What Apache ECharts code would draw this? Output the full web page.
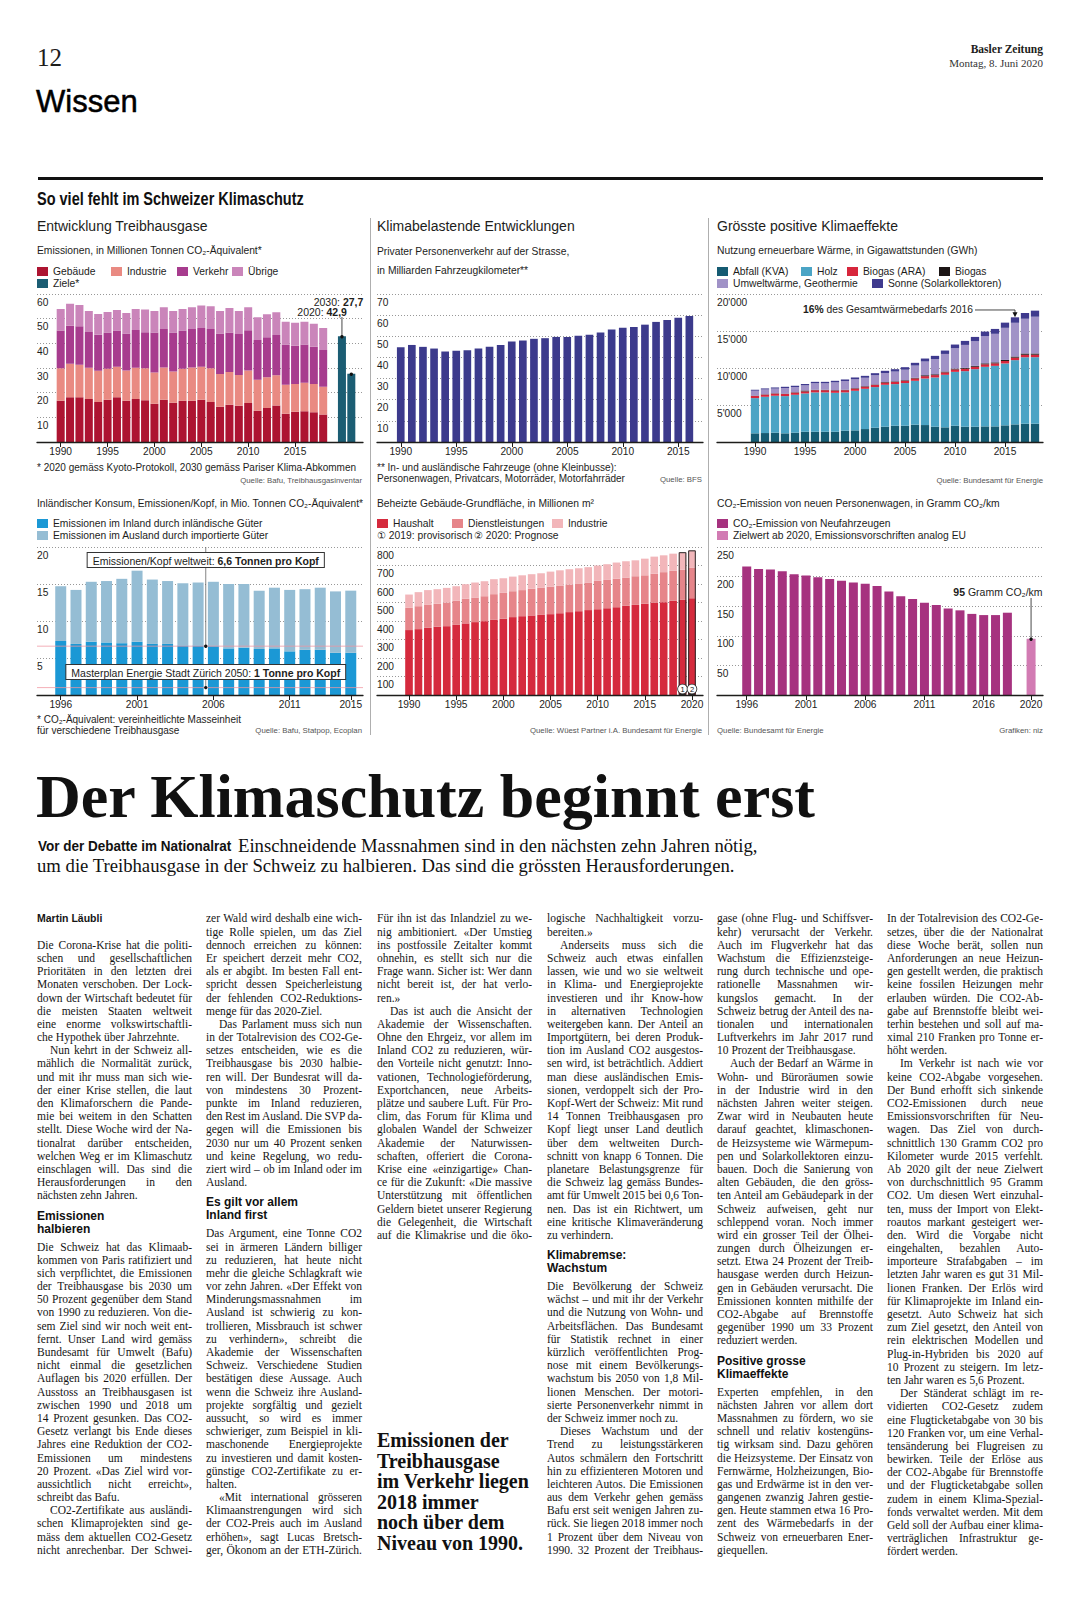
<!DOCTYPE html>
<html><head><meta charset="utf-8">
<script src="https://cdn.jsdelivr.net/npm/echarts@6/dist/echarts.min.js"></script>
<style>
html,body{margin:0;padding:0;background:#fff;}
body{width:1079px;height:1600px;position:relative;overflow:hidden;color:#1d1d1b;font-family:'Liberation Serif',serif;}
#chart{position:absolute;left:0;top:0;width:1079px;height:760px;z-index:1;}
.abs{position:absolute;white-space:nowrap;z-index:2;}
.col{position:absolute;}
.ln{height:13.2px;line-height:13.2px;font:11.5px 'Liberation Serif',serif;white-space:nowrap;color:#151515;}
.au{font:bold 10.5px 'Liberation Sans',Arial,sans-serif;}
.in{padding-left:13px;}
.sh{font:bold 12px/13px 'Liberation Sans',Arial,sans-serif;margin:7px 0 5px 0;color:#111;}
</style></head><body>
<div class="abs" style="left:37px;top:44px;font:25px/28px 'Liberation Serif',serif;">12</div>
<div class="abs" style="right:36px;top:43px;font:bold 11.5px/13px 'Liberation Serif',serif;">Basler Zeitung</div>
<div class="abs" style="right:36px;top:57px;font:11px/13px 'Liberation Serif',serif;color:#333;">Montag, 8. Juni 2020</div>
<div class="abs" style="left:36px;top:84px;font:31px/36px 'Liberation Sans',Arial,sans-serif;color:#000;-webkit-text-stroke:0.5px #000;">Wissen</div>
<div class="abs" style="left:38px;top:177px;width:1005px;height:3px;background:#111;"></div>
<div id="chart"></div>
<div class="abs" style="left:36px;top:765px;font:bold 62px/62px 'Liberation Serif',serif;color:#111;">Der Klimaschutz beginnt erst</div>
<div class="abs" style="left:38px;top:838px;font:bold 15px/16px 'Liberation Sans',Arial,sans-serif;color:#111;transform:scaleX(0.9);transform-origin:0 0;">Vor der Debatte im Nationalrat</div>
<div class="abs" style="left:238px;top:836px;font:18.7px/20px 'Liberation Serif',serif;color:#111;">Einschneidende Massnahmen sind in den nächsten zehn Jahren nötig,</div>
<div class="abs" style="left:37px;top:856px;font:18.7px/20px 'Liberation Serif',serif;color:#111;">um die Treibhausgase in der Schweiz zu halbieren. Das sind die grössten Herausforderungen.</div>
<div class="abs" style="left:377px;top:1430px;font:bold 20px/20.6px 'Liberation Serif',serif;color:#111;">Emissionen der<br>Treibhausgase<br>im Verkehr liegen<br>2018 immer<br>noch über dem<br>Niveau von 1990.</div>
<script>
// ---------------- DATA ----------------
const c1Years = ['1990','1991','1992','1993','1994','1995','1996','1997','1998','1999','2000','2001','2002','2003','2004','2005','2006','2007','2008','2009','2010','2011','2012','2013','2014','2015','2016','2017','2018','2019','2020','2030'];
const c1Gebaeude = [16.7,18.1,18.1,17.4,16.2,17.1,18.1,16.7,17.4,16.9,15.5,17.1,15.9,16.7,16.7,17.1,16.2,14.3,15.1,14.7,15.8,12.7,13.8,14.8,11.5,12.3,12.5,12.1,11.1];
const c1Industrie = [13.2,13.6,13.2,12.7,12.7,12.6,12.4,12.3,12.7,13.0,12.7,13.1,12.7,13.0,13.5,13.4,13.7,13.3,13.3,12.5,13.2,12.5,12.5,12.3,11.7,11.2,11.5,11.4,11.3];
const c1Verkehr = [15.3,15.4,15.6,14.5,14.6,14.7,14.7,15.0,15.3,14.6,16.2,15.6,15.8,15.5,15.6,15.7,15.9,16.4,16.0,16.6,16.3,16.2,16.2,16.3,16.3,15.5,15.5,15.1,14.9];
const c1Uebrige = [8.7,8.9,8.6,8.5,8.4,8.3,8.3,8.3,8.5,9.2,8.7,8.8,8.7,8.7,8.8,9.1,9.2,9.1,9.9,9.3,9.3,9.2,9.3,9.2,9.3,9.3,9.2,9.3,8.9];
const c1Ziele = [['2020',42.9],['2030',27.7]];

const c2Years = ['1990','1991','1992','1993','1994','1995','1996','1997','1998','1999','2000','2001','2002','2003','2004','2005','2006','2007','2008','2009','2010','2011','2012','2013','2014','2015','2016'];
const c2Fahrzeugkm = [44.8,45.9,45.0,44.2,42.8,43.1,43.4,44.2,45.0,45.9,47.5,48.0,48.8,49.1,49.7,49.7,50.2,50.7,51.8,53.2,54.0,54.4,55.5,56.8,57.7,58.8,59.6];

const c3Years = ['1990','1991','1992','1993','1994','1995','1996','1997','1998','1999','2000','2001','2002','2003','2004','2005','2006','2007','2008','2009','2010','2011','2012','2013','2014','2015','2016','2017','2018'];
const c3Abfall = [1170,1210,1260,1170,1260,1390,1390,1390,1390,1530,1570,1750,1930,2070,2200,2200,2340,2290,2070,1980,2200,2070,2070,2110,2110,2250,2380,2470,2470];
const c3Holz = [4760,4900,4990,5030,5120,5170,5310,5310,5260,5170,5350,5440,5490,5660,5620,5760,5930,6290,6650,7100,7280,7500,7770,8050,8180,8360,8680,8990,8990];
const c3BiogasARA = [300,300,300,300,300,280,300,300,300,300,300,300,300,310,310,310,320,320,320,330,330,330,330,340,340,340,340,340,340];
const c3Biogas = [40,40,40,40,50,120,60,60,60,60,60,60,60,70,70,80,90,120,110,110,110,120,120,130,130,140,150,150,160];
const c3Umwelt = [660,650,630,760,700,700,880,870,1050,1170,1200,1130,1240,1210,1320,1420,1650,1860,2060,2380,2750,3100,3330,3670,3860,4340,4560,4710,4970];
const c3Sonne = [130,140,150,160,170,180,190,200,210,220,240,260,280,300,320,340,370,400,430,460,500,540,580,620,660,700,740,780,820];

const c4Years = ['1996','1997','1998','1999','2000','2001','2002','2003','2004','2005','2006','2007','2008','2009','2010','2011','2012','2013','2014','2015'];
const c4Inland = [7.3,6.9,7.2,7.1,7.0,7.2,6.9,6.9,6.7,6.7,6.6,6.3,6.4,6.2,6.3,5.9,6.1,6.1,5.7,5.7];
const c4Ausland = [7.4,7.3,8.1,8.3,8.7,9.6,8.7,8.5,8.4,8.5,8.7,8.7,8.6,7.9,8.2,8.3,8.2,8.4,8.3,8.4];
const c4Welt = 6.6, c4Zuerich = 1;

const c5Years = ['1990','1991','1992','1993','1994','1995','1996','1997','1998','1999','2000','2001','2002','2003','2004','2005','2006','2007','2008','2009','2010','2011','2012','2013','2014','2015','2016','2017','2018','2019','2020'];
const c5Haushalt = [351,356,363,369,372,379,387,394,399,406,412,421,426,430,433,437,442,448,453,459,464,469,475,482,487,493,498,502,509,514,523];
const c5Dienst = [120,124,124,124,128,130,133,133,135,139,140,140,141,144,146,149,150,149,150,149,153,153,154,153,155,154,158,162,162,164,166];
const c5Industrie = [72,76,80,79,79,79,79,81,81,81,79,79,80,79,79,81,82,83,82,83,83,85,87,88,86,90,92,91,93,94,93];
const c5Marked = ['2019','2020'];

const c6Years = ['1996','1997','1998','1999','2000','2001','2002','2003','2004','2005','2006','2007','2008','2009','2010','2011','2012','2013','2014','2015','2016','2017','2018','2019','2020'];
const c6Neu = [217,213,212,209,204,202,199,196,193,190,188,184,175,167,162,156,152,146,143,137,135,135,139];
const c6Ziel = [['2020',95]];

// ---------------- STYLE ----------------
const FF = "'Liberation Sans', Arial, sans-serif";
const INK = '#1d1d1b';
const SUB = 10.3;
const GRIDLINE = {type:[1,2], color:'#7d7d7d', width:0.8};
const apos = v => String(v).replace(/\B(?=(\d{3})+(?!\d))/g, "'");

const P = [
 {L:37, R:363, T:294, B:442, dl:56, dr:356, max:60, step:10, cats:c1Years, bw:'85%', show:(i,v)=>+v<=2015 && +v%5===0},
 {L:377, R:703, T:294, B:442, dl:395.2, dr:694.9, max:70, step:10, cats:c2Years, bw:'69%', show:(i,v)=>+v%5===0},
 {L:717, R:1043, T:294, B:442, dl:750, dr:1040, max:20000, step:5000, cats:c3Years, bw:'83%', show:(i,v)=>+v%5===0, fmt:apos},
 {L:37, R:363, T:547, B:695, dl:53.1, dr:358.4, max:20, step:5, cats:c4Years, bw:'72%', show:(i,v)=>(+v-1996)%5===0 || v==='2015'},
 {L:377, R:703, T:547, B:695, dl:404.3, dr:696.7, max:800, step:100, cats:c5Years, bw:'81%', show:(i,v)=>+v%5===0},
 {L:717, R:1043, T:547, B:695, dl:740.8, dr:1037, max:250, step:50, cats:c6Years, bw:'76%', show:(i,v)=>(+v-1996)%5===0 || v==='2020'}
];

const grids=[], xAxes=[], yAxes=[];
P.forEach((p,i)=>{
  grids.push({left:p.L, top:p.T, width:p.R-p.L, height:p.B-p.T, outerBoundsMode:'none'});
  grids.push({left:p.dl, top:p.T, width:p.dr-p.dl, height:p.B-p.T, outerBoundsMode:'none'});
  xAxes.push({gridIndex:2*i, type:'value', min:0, max:1, z:6, axisLine:{show:true, onZero:false, lineStyle:{color:INK, width:1.3}}, axisTick:{show:false}, axisLabel:{show:false}, splitLine:{show:false}});
  xAxes.push({gridIndex:2*i+1, type:'category', data:p.cats, axisLine:{show:false},
    axisTick:{show:true, alignWithLabel:true, interval:p.show, length:5, lineStyle:{color:INK, width:1}},
    axisLabel:{interval:p.show, margin:4, fontSize:10.2, color:INK, fontFamily:FF, hideOverlap:false}, splitLine:{show:false}});
  yAxes.push({gridIndex:2*i, type:'value', min:0, max:p.max, interval:p.step, axisLine:{show:false}, axisTick:{show:false},
    splitLine:{show:true, lineStyle:GRIDLINE},
    axisLabel:{inside:true, margin:0, verticalAlign:'top', padding:[3,0,0,0], fontSize:10.2, color:INK, fontFamily:FF, showMinLabel:false, formatter:p.fmt || (v=>String(v))}});
  yAxes.push({gridIndex:2*i+1, type:'value', min:0, max:p.max, show:false});
});

function bar(k, name, data, color, extra){
  return Object.assign({type:'bar', name, data, xAxisIndex:2*k+1, yAxisIndex:2*k+1, stack:'s'+k, barWidth:P[k].bw,
    itemStyle:{color}, emphasis:{disabled:true}, animation:false}, extra||{});
}
const c5Totals = c5Marked.map(y=>{const i=c5Years.indexOf(y); return [y, c5Haushalt[i]+c5Dienst[i]+c5Industrie[i]];});

const series = [
  bar(0,'Gebäude',c1Gebaeude,'#ad1431'),
  bar(0,'Industrie',c1Industrie,'#e98a82'),
  bar(0,'Verkehr',c1Verkehr,'#a73c8e'),
  bar(0,'Übrige',c1Uebrige,'#ca85ba'),
  bar(0,'Ziele*',c1Ziele,'#1b5d73',{stack:null, barGap:'-100%'}),
  bar(1,'Fahrzeugkilometer',c2Fahrzeugkm,'#3c3a8c'),
  bar(2,'Abfall (KVA)',c3Abfall,'#155b72'),
  bar(2,'Holz',c3Holz,'#4ba4c5'),
  bar(2,'Biogas (ARA)',c3BiogasARA,'#d7263c'),
  bar(2,'Biogas',c3Biogas,'#1c1515'),
  bar(2,'Umweltwärme, Geothermie',c3Umwelt,'#a092c7'),
  bar(2,'Sonne (Solarkollektoren)',c3Sonne,'#3f3a8e'),
  bar(3,'Emissionen im Inland durch inländische Güter',c4Inland,'#1b98d5'),
  bar(3,'Emissionen im Ausland durch importierte Güter',c4Ausland,'#95bdd4'),
  bar(4,'Haushalt',c5Haushalt,'#d52a3d'),
  bar(4,'Dienstleistungen',c5Dienst,'#e6858a'),
  bar(4,'Industrie\u200b',c5Industrie,'#f2b6ba'),
  bar(4,'Umriss',c5Totals,'rgba(0,0,0,0)',{stack:null, barGap:'-100%', z:3, silent:true,
     itemStyle:{color:'rgba(0,0,0,0)', borderColor:'#2a2a2a', borderWidth:1},
     label:{show:true, position:'insideBottom', distance:1.5, formatter:p=>String(p.dataIndex+1), fontSize:7.5, fontFamily:FF, color:'#111',
       backgroundColor:'#fff', borderColor:'#222', borderWidth:0.8, borderRadius:5, width:9, height:9, lineHeight:9, align:'center', padding:0}}),
  bar(5,'CO₂-Emission von Neufahrzeugen',c6Neu,'#a6327f'),
  bar(5,'Zielwert ab 2020, Emissionsvorschriften analog EU',c6Ziel,'#d27bb3',{stack:null, barGap:'-100%'})
];

const LG = (name,left,top)=>({data:[name], left, top, padding:0, itemWidth:11, itemHeight:9, itemGap:0, icon:'rect', orient:'horizontal',
  textStyle:{fontSize:SUB, color:INK, fontFamily:FF}});
const legends = [
  LG('Gebäude',37,266.5), LG('Industrie',111,266.5), LG('Verkehr',177,266.5), LG('Übrige',232,266.5), LG('Ziele*',37,278.5),
  LG('Abfall (KVA)',717,266.5), LG('Holz',801,266.5), LG('Biogas (ARA)',847,266.5), LG('Biogas',939,266.5),
  LG('Umweltwärme, Geothermie',717,278.5), LG('Sonne (Solarkollektoren)',872,278.5),
  LG('Emissionen im Inland durch inländische Güter',37,518.5), LG('Emissionen im Ausland durch importierte Güter',37,530.5),
  LG('Haushalt',377,518.5), LG('Dienstleistungen',452,518.5), LG('Industrie\u200b',552,518.5),
  LG('CO₂-Emission von Neufahrzeugen',717,518.5), LG('Zielwert ab 2020, Emissionsvorschriften analog EU',717,530.5)
];

const chart = echarts.init(document.getElementById('chart'), null, {renderer:'svg'});
chart.setOption({animation:false, textStyle:{fontFamily:FF}, grid:grids, xAxis:xAxes, yAxis:yAxes, legend:legends, series});

// ---------------- TEXT & ANNOTATIONS ----------------
function T(x,y,text,size,o,extra){return Object.assign({type:'text', x, y, z:100, silent:true, style:Object.assign({text, fontSize:size, fontFamily:FF, fill:INK, align:'left', verticalAlign:'middle'},o||{})},extra||{});}
const SRC = {fill:'#555'};
const SRCR = {fill:'#555', align:'right'};
const B = s=>({rich:{b:{fontWeight:'bold', fontSize:s, fontFamily:FF, fill:INK}}});
function L(x1,y1,x2,y2,c,w){return {type:'line', z:100, silent:true, shape:{x1,y1,x2,y2}, style:{stroke:c||'#555', lineWidth:w||0.8}};}
function D(x,y){return {type:'circle', z:101, silent:true, shape:{cx:x,cy:y,r:1.7}, style:{fill:'#111'}};}
const px=(g,c,v)=>chart.convertToPixel({gridIndex:g},[c,v]);

const els = [
  T(37,198.5,'So viel fehlt im Schweizer Klimaschutz',17.7,{fontWeight:'bold', fill:'#111'},{scaleX:0.82}),
  T(37,226,'Entwicklung Treibhausgase',14), T(377,226,'Klimabelastende Entwicklungen',14), T(717,226,'Grösste positive Klimaeffekte',14),
  T(37,250,'Emissionen, in Millionen Tonnen CO₂-Äquivalent*',SUB),
  T(377,251,'Privater Personenverkehr auf der Strasse,',SUB), T(377,270,'in Milliarden Fahrzeugkilometer**',SUB),
  T(717,250,'Nutzung erneuerbare Wärme, in Gigawattstunden (GWh)',SUB),
  T(37,467,'* 2020 gemäss Kyoto-Protokoll, 2030 gemäss Pariser Klima-Abkommen',10),
  T(377,467,'** In- und ausländische Fahrzeuge (ohne Kleinbusse):',10),
  T(377,478.5,'Personenwagen, Privatcars, Motorräder, Motorfahrräder',10),
  T(362,480,'Quelle: Bafu, Treibhausgasinventar',7.8,SRCR),
  T(702,479,'Quelle: BFS',7.8,SRCR),
  T(1043,480,'Quelle: Bundesamt für Energie',7.8,SRCR),
  T(37,503.5,'Inländischer Konsum, Emissionen/Kopf, in Mio. Tonnen CO₂-Äquivalent*',10.2),
  T(377,503.5,'Beheizte Gebäude-Grundfläche, in Millionen m²',SUB),
  T(717,503.5,'CO₂-Emission von neuen Personenwagen, in Gramm CO₂/km',SUB),
  T(377,535,'① 2019: provisorisch',SUB), T(474,535,'② 2020: Prognose',SUB),
  T(37,719.5,'* CO₂-Äquivalent: vereinheitlichte Masseinheit',10),
  T(37,730.5,'für verschiedene Treibhausgase',10),
  T(362,730,'Quelle: Bafu, Statpop, Ecoplan',7.8,SRCR),
  T(702,730,'Quelle: Wüest Partner i.A. Bundesamt für Energie',7.8,SRCR),
  T(717,730,'Quelle: Bundesamt für Energie',7.8,SRC),
  T(1043,730,'Grafiken: niz',7.8,SRCR),
  L(370.5,218,370.5,735,'#9a9a9a',0.8), L(708.5,218,708.5,735,'#9a9a9a',0.8)
];

// chart 1 targets
{
  const a20=px(1,'2020',c1Ziele[0][1]), a30=px(1,'2030',c1Ziele[1][1]);
  const y20=px(1,'2020',52.7)[1], y30=px(1,'2030',56.7)[1];
  els.push(L(a20[0],y20+5,a20[0],a20[1],'#333',0.9), D(a20[0],a20[1]+0.5), D(a30[0],a30[1]+0.5));
  els.push(T(a20[0]+5,y20,'2020: {b|42,9}',10.5,Object.assign({align:'right'},B(10.5))));
  els.push(T(a30[0]+12,y30,'2030: {b|27,7}',10.5,Object.assign({align:'right'},B(10.5))));
}
// chart 3 annotation
{
  const i=c3Years.indexOf('2016');
  const tot=c3Abfall[i]+c3Holz[i]+c3BiogasARA[i]+c3Biogas[i]+c3Umwelt[i]+c3Sonne[i];
  const a=px(5,'2016',tot), yl=px(5,'2016',17840)[1];
  els.push({type:'polyline', z:100, silent:true, shape:{points:[[a[0]-40,yl],[a[0],yl],[a[0],a[1]-3]]}, style:{stroke:'#333', lineWidth:0.9, fill:null}});
  els.push({type:'polygon', z:101, silent:true, shape:{points:[[a[0]-2.5,a[1]-5],[a[0]+2.5,a[1]-5],[a[0],a[1]]]}, style:{fill:'#111'}});
  els.push(T(a[0]-42,yl,'{b|16%} des Gesamtwärmebedarfs 2016',10.3,Object.assign({align:'right'},B(10.3))));
}
// chart 4 annotations
{
  const xm=(px(7,'2005',0)[0]+px(7,'2006',0)[0])/2;
  const y66=px(7,'2005',c4Welt)[1], y1=px(7,'2005',c4Zuerich)[1], yTop=px(7,'2005',20)[1];
  const yB1=px(7,'2005',18.24)[1], yB2=px(7,'2005',3.1)[1];
  els.push(L(P[3].L,y66,P[3].R,y66,'rgba(240,150,160,0.75)',1), L(P[3].L,y1,P[3].R,y1,'rgba(240,150,160,0.75)',1));
  els.push(L(xm,yTop,xm,y66,'#666',0.8), L(xm,yB2,xm,y1,'#666',0.8), D(xm,y66), D(xm,y1));
  const box={align:'center', backgroundColor:'#fff', borderColor:'#333', borderWidth:1, padding:[2,5,1,5]};
  els.push(T(xm,yB1,'Emissionen/Kopf weltweit: {b|6,6 Tonnen pro Kopf}',10.5,Object.assign({},box,B(10.5))));
  els.push(T(xm,yB2,'Masterplan Energie Stadt Zürich 2050: {b|1 Tonne pro Kopf}',10.5,Object.assign({},box,B(10.5))));
}
// chart 6 annotation
{
  const a=px(11,'2020',c6Ziel[0][1]), yl=px(11,'2020',174)[1];
  els.push(L(a[0],yl+6,a[0],a[1],'#333',0.9), D(a[0],a[1]+0.5));
  els.push(T(a[0]+11.5,yl,'{b|95} Gramm CO₂/km',10.5,Object.assign({align:'right'},B(10.5))));
}
chart.setOption({graphic:{elements:els}});

// ---------------- ARTICLE ----------------
const COL1 = ['#Martin Läubli','~',
'Die Corona-Krise hat die politi-','schen und gesellschaftlichen','Prioritäten in den letzten drei','Monaten verschoben. Der Lock-','down der Wirtschaft bedeutet für','die meisten Staaten weltweit','eine enorme volkswirtschaftli-','che Hypothek über Jahrzehnte.¶',
'>Nun kehrt in der Schweiz all-','mählich die Normalität zurück,','und mit ihr muss man sich wie-','der einer Krise stellen, die laut','den Klimaforschern die Pande-','mie bei weitem in den Schatten','stellt. Diese Woche wird der Na-','tionalrat darüber entscheiden,','welchen Weg er im Klimaschutz','einschlagen will. Das sind die','Herausforderungen in den','nächsten zehn Jahren.¶',
'=Emissionen','=halbieren',
'Die Schweiz hat das Klimaab-','kommen von Paris ratifiziert und','sich verpflichtet, die Emissionen','der Treibhausgase bis 2030 um','50 Prozent gegenüber dem Stand','von 1990 zu reduzieren. Von die-','sem Ziel sind wir noch weit ent-','fernt. Unser Land wird gemäss','Bundesamt für Umwelt (Bafu)','nicht einmal die gesetzlichen','Auflagen bis 2020 erfüllen. Der','Ausstoss an Treibhausgasen ist','zwischen 1990 und 2018 um','14 Prozent gesunken. Das CO2-','Gesetz verlangt bis Ende dieses','Jahres eine Reduktion der CO2-','Emissionen um mindestens','20 Prozent. «Das Ziel wird vor-','aussichtlich nicht erreicht»,','schreibt das Bafu.¶',
'>CO2-Zertifikate aus ausländi-','schen Klimaprojekten sind ge-','mäss dem aktuellen CO2-Gesetz','nicht anrechenbar. Der Schwei-'];
const COL2 = ['zer Wald wird deshalb eine wich-','tige Rolle spielen, um das Ziel','dennoch erreichen zu können:','Er speichert derzeit mehr CO2,','als er abgibt. Im besten Fall ent-','spricht dessen Speicherleistung','der fehlenden CO2-Reduktions-','menge für das 2020-Ziel.¶',
'>Das Parlament muss sich nun','in der Totalrevision des CO2-Ge-','setzes entscheiden, wie es die','Treibhausgase bis 2030 halbie-','ren will. Der Bundesrat will da-','von mindestens 30 Prozent-','punkte im Inland reduzieren,','den Rest im Ausland. Die SVP da-','gegen will die Emissionen bis','2030 nur um 40 Prozent senken','und keine Regelung, wo redu-','ziert wird – ob im Inland oder im','Ausland.¶',
'=Es gilt vor allem','=Inland first',
'Das Argument, eine Tonne CO2','sei in ärmeren Ländern billiger','zu reduzieren, hat heute nicht','mehr die gleiche Schlagkraft wie','vor zehn Jahren. «Der Effekt von','Minderungsmassnahmen im','Ausland ist schwierig zu kon-','trollieren, Missbrauch ist schwer','zu verhindern», schreibt die','Akademie der Wissenschaften','Schweiz. Verschiedene Studien','bestätigen diese Aussage. Auch','wenn die Schweiz ihre Ausland-','projekte sorgfältig und gezielt','aussucht, so wird es immer','schwieriger, zum Beispiel in kli-','maschonende Energieprojekte','zu investieren und damit kosten-','günstige CO2-Zertifikate zu er-','halten.¶',
'>«Mit international grösseren','Klimaanstrengungen wird sich','der CO2-Preis auch im Ausland','erhöhen», sagt Lucas Bretsch-','ger, Ökonom an der ETH-Zürich.'];
const COL3 = ['Für ihn ist das Inlandziel zu we-','nig ambitioniert. «Der Umstieg','ins postfossile Zeitalter kommt','ohnehin, es stellt sich nur die','Frage wann. Sicher ist: Wer dann','nicht bereit ist, der hat verlo-','ren.»¶',
'>Das ist auch die Ansicht der','Akademie der Wissenschaften.','Ohne den Ehrgeiz, vor allem im','Inland CO2 zu reduzieren, wür-','den Vorteile nicht genutzt: Inno-','vationen, Technologieförderung,','Exportchancen, neue Arbeits-','plätze und saubere Luft. Für Pro-','clim, das Forum für Klima und','globalen Wandel der Schweizer','Akademie der Naturwissen-','schaften, offeriert die Corona-','Krise eine «einzigartige» Chan-','ce für die Zukunft: «Die massive','Unterstützung mit öffentlichen','Geldern bietet unserer Regierung','die Gelegenheit, die Wirtschaft','auf die Klimakrise und die öko-'];
const COL4 = ['logische Nachhaltigkeit vorzu-','bereiten.»¶',
'>Anderseits muss sich die','Schweiz auch etwas einfallen','lassen, wie und wo sie weltweit','in Klima- und Energieprojekte','investieren und ihr Know-how','in alternativen Technologien','weitergeben kann. Der Anteil an','Importgütern, bei deren Produk-','tion im Ausland CO2 ausgestos-','sen wird, ist beträchtlich. Addiert','man diese ausländischen Emis-','sionen, verdoppelt sich der Pro-','Kopf-Wert der Schweiz: Mit rund','14 Tonnen Treibhausgasen pro','Kopf liegt unser Land deutlich','über dem weltweiten Durch-','schnitt von knapp 6 Tonnen. Die','planetare Belastungsgrenze für','die Schweiz lag gemäss Bundes-','amt für Umwelt 2015 bei 0,6 Ton-','nen. Das ist ein Richtwert, um','eine kritische Klimaveränderung','zu verhindern.¶',
'=Klimabremse:','=Wachstum',
'Die Bevölkerung der Schweiz','wächst – und mit ihr der Verkehr','und die Nutzung von Wohn- und','Arbeitsflächen. Das Bundesamt','für Statistik rechnet in einer','kürzlich veröffentlichten Prog-','nose mit einem Bevölkerungs-','wachstum bis 2050 von 1,8 Mil-','lionen Menschen. Der motori-','sierte Personenverkehr nimmt in','der Schweiz immer noch zu.¶',
'>Dieses Wachstum und der','Trend zu leistungsstärkeren','Autos schmälern den Fortschritt','hin zu effizienteren Motoren und','leichteren Autos. Die Emissionen','aus dem Verkehr gehen gemäss','Bafu erst seit wenigen Jahren zu-','rück. Sie liegen 2018 immer noch','1 Prozent über dem Niveau von','1990. 32 Prozent der Treibhaus-'];
const COL5 = ['gase (ohne Flug- und Schiffsver-','kehr) verursacht der Verkehr.','Auch im Flugverkehr hat das','Wachstum die Effizienzsteige-','rung durch technische und ope-','rationelle Massnahmen wir-','kungslos gemacht. In der','Schweiz betrug der Anteil des na-','tionalen und internationalen','Luftverkehrs im Jahr 2017 rund','10 Prozent der Treibhausgase.¶',
'>Auch der Bedarf an Wärme in','Wohn- und Büroräumen sowie','in der Industrie wird in den','nächsten Jahren weiter steigen.','Zwar wird in Neubauten heute','darauf geachtet, klimaschonen-','de Heizsysteme wie Wärmepum-','pen und Solarkollektoren einzu-','bauen. Doch die Sanierung von','alten Gebäuden, die den gröss-','ten Anteil am Gebäudepark in der','Schweiz aufweisen, geht nur','schleppend voran. Noch immer','wird ein grosser Teil der Ölhei-','zungen durch Ölheizungen er-','setzt. Etwa 24 Prozent der Treib-','hausgase werden durch Heizun-','gen in Gebäuden verursacht. Die','Emissionen konnten mithilfe der','CO2-Abgabe auf Brennstoffe','gegenüber 1990 um 33 Prozent','reduziert werden.¶',
'=Positive grosse','=Klimaeffekte',
'Experten empfehlen, in den','nächsten Jahren vor allem dort','Massnahmen zu fördern, wo sie','schnell und relativ kostengüns-','tig wirksam sind. Dazu gehören','die Heizsysteme. Der Einsatz von','Fernwärme, Holzheizungen, Bio-','gas und Erdwärme ist in den ver-','gangenen zwanzig Jahren gestie-','gen. Heute stammen etwa 16 Pro-','zent des Wärmebedarfs in der','Schweiz von erneuerbaren Ener-','giequellen.¶'];
const COL6 = ['In der Totalrevision des CO2-Ge-','setzes, über die der Nationalrat','diese Woche berät, sollen nun','Anforderungen an neue Heizun-','gen gestellt werden, die praktisch','keine fossilen Heizungen mehr','erlauben würden. Die CO2-Ab-','gabe auf Brennstoffe bleibt wei-','terhin bestehen und soll auf ma-','ximal 210 Franken pro Tonne er-','höht werden.¶',
'>Im Verkehr ist nach wie vor','keine CO2-Abgabe vorgesehen.','Der Bund erhofft sich sinkende','CO2-Emissionen durch neue','Emissionsvorschriften für Neu-','wagen. Das Ziel von durch-','schnittlich 130 Gramm CO2 pro','Kilometer wurde 2015 verfehlt.','Ab 2020 gilt der neue Zielwert','von durchschnittlich 95 Gramm','CO2. Um diesen Wert einzuhal-','ten, muss der Import von Elekt-','roautos markant gesteigert wer-','den. Wird die Vorgabe nicht','eingehalten, bezahlen Auto-','importeure Strafabgaben – im','letzten Jahr waren es gut 31 Mil-','lionen Franken. Der Erlös wird','für Klimaprojekte im Inland ein-','gesetzt. Auto Schweiz hat sich','zum Ziel gesetzt, den Anteil von','rein elektrischen Modellen und','Plug-in-Hybriden bis 2020 auf','10 Prozent zu steigern. Im letz-','ten Jahr waren es 5,6 Prozent.¶',
'>Der Ständerat schlägt im re-','vidierten CO2-Gesetz zudem','eine Flugticketabgabe von 30 bis','120 Franken vor, um eine Verhal-','tensänderung bei Flugreisen zu','bewirken. Teile der Erlöse aus','der CO2-Abgabe für Brennstoffe','und der Flugticketabgabe sollen','zudem in einem Klima-Spezial-','fonds verwaltet werden. Mit dem','Geld soll der Aufbau einer klima-','verträglichen Infrastruktur ge-','fördert werden.¶'];

const COLS = [[37,155,COL1],[206,156,COL2],[377,155,COL3],[547,156,COL4],[717,156,COL5],[887,156,COL6]];
COLS.forEach(([x,w,lines])=>{
  const col=document.createElement('div'); col.className='col';
  col.style.left=x+'px'; col.style.top='912.4px'; col.style.width=w+'px';
  let sh=null;
  lines.forEach(s=>{
    if(s[0]==='='){
      if(!sh){sh=document.createElement('div'); sh.className='sh'; col.appendChild(sh);} else sh.appendChild(document.createElement('br'));
      sh.appendChild(document.createTextNode(s.slice(1))); return;
    }
    sh=null;
    const d=document.createElement('div'); d.className='ln'; let t=s;
    if(t[0]==='#'){d.classList.add('au'); t=t.slice(1);}
    else if(t==='~'){t='\u00a0';}
    else { if(t[0]==='>'){d.classList.add('in'); t=t.slice(1);} if(t.endsWith('¶')) t=t.slice(0,-1); else d.classList.add('j'); }
    const sp=document.createElement('span'); sp.textContent=t; d.appendChild(sp); col.appendChild(d);
  });
  document.body.appendChild(col);
});
function justify(){
  document.querySelectorAll('.ln').forEach(d=>{
    const sp=d.firstChild; sp.style.wordSpacing='0px'; sp.style.letterSpacing='0px';
    const avail=d.clientWidth-parseFloat(getComputedStyle(d).paddingLeft);
    let w=sp.getBoundingClientRect().width;
    const n=(sp.textContent.match(/ /g)||[]).length;
    if(w>avail){ const ls=Math.max(-0.6,(avail-w)/sp.textContent.length); sp.style.letterSpacing=ls+'px'; w=sp.getBoundingClientRect().width; }
    if(d.classList.contains('j') && n>0) sp.style.wordSpacing=((avail-w)/n)+'px';
  });
}
justify();
if(document.fonts && document.fonts.ready) document.fonts.ready.then(justify);
</script>
</body></html>
